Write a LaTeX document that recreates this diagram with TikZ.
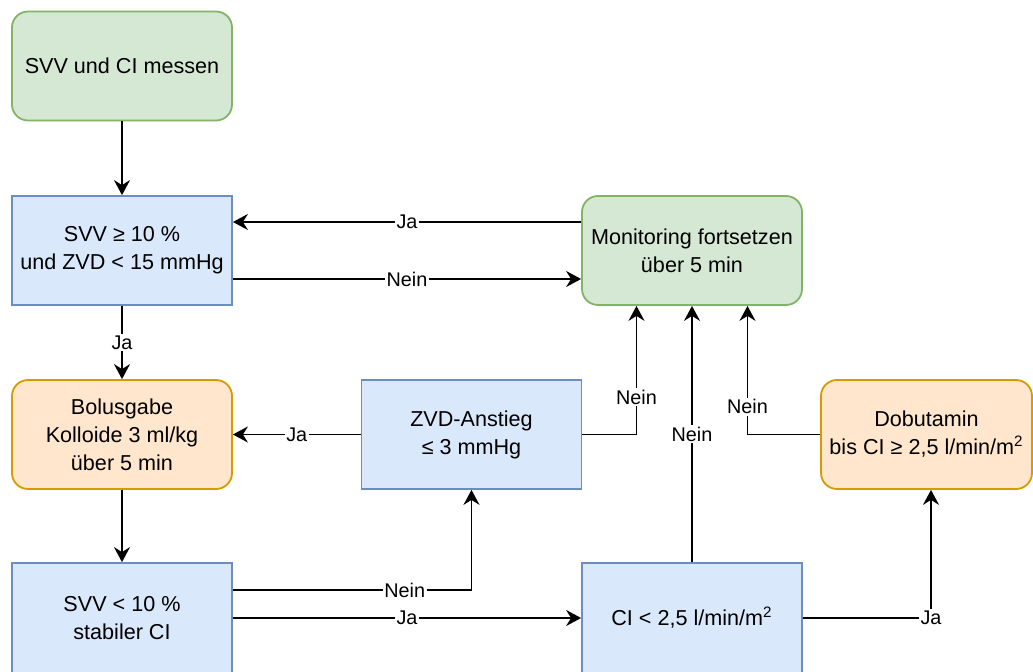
\documentclass[tikz,border=0pt]{standalone}
\usepackage{fontspec}
\setmainfont{Liberation Sans}
\usepackage{xcolor}
\usetikzlibrary{positioning,calc,arrows.meta,shapes.geometric}

\definecolor{greenFill}{HTML}{D5E8D4}
\definecolor{greenLine}{HTML}{82B366}
\definecolor{blueFill}{HTML}{DAE8FC}
\definecolor{blueLine}{HTML}{6C8EBF}
\definecolor{orangeFill}{HTML}{FFE6CC}
\definecolor{orangeLine}{HTML}{D79B00}

\begin{document}
\begin{tikzpicture}[
						x=0.5pt, y=-0.5pt,
						every node/.style={font=\fontsize{10.8}{14}\selectfont},
						base_box/.style={
							rectangle, line width=0.9pt, align=center,
							minimum width=110pt, minimum height=54.5pt, inner sep=2pt
						},
						green_box/.style={base_box, fill=greenFill, draw=greenLine, rounded corners=8pt},
						blue_box/.style={base_box, fill=blueFill, draw=blueLine},
						orange_box/.style={base_box, fill=orangeFill, draw=orangeLine, rounded corners=8pt},
						flow_arrow/.style={
							-{Stealth[length=7.5pt, width=8pt, inset=2.5pt]},
							line width=0.9pt, black
						},
						flow_line/.style={line width=0.9pt, black},
						edge_label/.style={
							fill=white, inner sep=0.8pt,
							font=\fontsize{9.9}{12}\selectfont
						}
						]
						\useasboundingbox (0,0) rectangle (1033,672);
						\clip (0,0) rectangle (1033,672);
						
						% --- 1. KNOTEN ---
						\node[green_box] (Messen) at (122, 66) {SVV und CI messen};
						\node[blue_box] (SVVhoch) at (122, 250.5) {SVV ≥ 10 \%\\und ZVD < 15 mmHg};
						\node[green_box] (Monitor) at (692, 250.5) {Monitoring fortsetzen\\über 5 min};
						\node[orange_box] (Bolus) at (122, 434.5) {Bolusgabe\\Kolloide 3 ml/kg\\über 5 min};
						\node[blue_box] (ZVD) at (471.5, 434.5) {ZVD-Anstieg\\ ≤ 3 mmHg};
						\node[orange_box, minimum width=105.5pt] (Dobu) at (926.5, 434.5) {Dobutamin\\bis CI ≥ 2,5 l/min/m\textsuperscript{2}};
						\node[blue_box, minimum height=55pt] (SVVtief) at (122, 618) {SVV < 10 \%\\stabiler CI};
						\node[blue_box, minimum height=55pt] (CItief) at (692, 618) {CI < 2,5 l/min/m\textsuperscript{2}};
						
						% --- 2. PFEILE ---
						\draw[flow_arrow] (Messen) -- (SVVhoch);
						\draw[flow_arrow] ([yshift=14.25pt]Monitor.west) -- node[edge_label] {Ja} ([yshift=14.25pt]SVVhoch.east);
						\draw[flow_arrow] ([yshift=-14.25pt]SVVhoch.east) -- node[edge_label] {Nein} ([yshift=-14.25pt]Monitor.west);
						\draw[flow_arrow] (SVVhoch) -- node[edge_label] {Ja} (Bolus);
						\draw[flow_arrow] (Bolus) -- (SVVtief);
						\draw[flow_arrow] (ZVD.west) -- node[edge_label] {Ja} (Bolus.east);
						\draw[flow_arrow] (ZVD.east) -| node[edge_label, pos=0.646] {Nein} ([xshift=-27.75pt]Monitor.south);
						\draw[flow_arrow] (CItief.north) -- node[edge_label] {Nein} (Monitor.south);
						\draw[flow_arrow] (Dobu.west) -| node[edge_label, pos=0.608] {Nein} ([xshift=27.75pt]Monitor.south);
						\draw[flow_arrow] ([yshift=14pt]SVVtief.east) -| node[edge_label, pos=0.36] {Nein} (ZVD.south);
						\draw[flow_arrow] (SVVtief.east) -- node[edge_label] {Ja} (CItief.west);
						\draw[flow_arrow] (CItief.east) -| node[edge_label, pos=0.5] {Ja} ([xshift=2.25pt]Dobu.south);
						
					\end{tikzpicture}
\end{document}
